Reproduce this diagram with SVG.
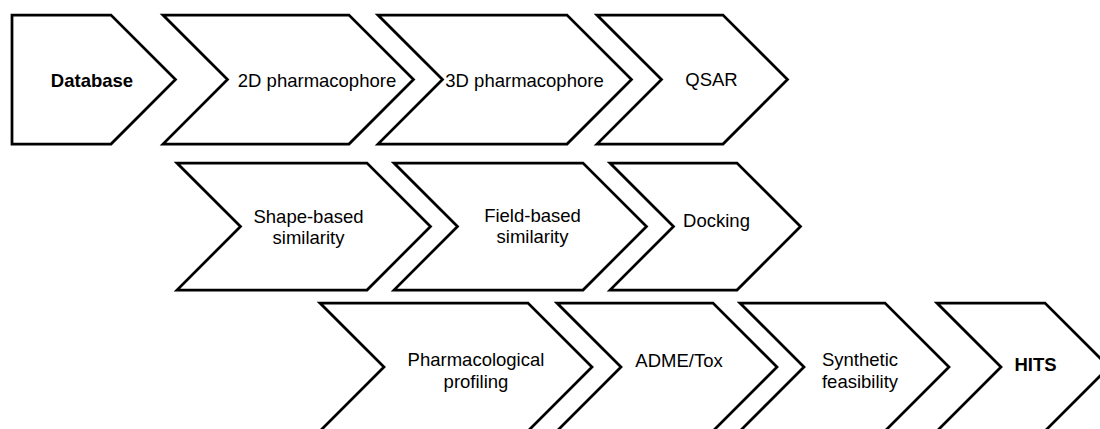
<svg xmlns="http://www.w3.org/2000/svg" width="1100" height="429" viewBox="0 0 1100 429">
<style>
.s{fill:#fff;stroke:#000;stroke-width:2.75;stroke-linejoin:miter}
.t{font-family:"Liberation Sans",Arial,sans-serif;font-size:18.5px;fill:#000;text-anchor:middle}
.b{font-weight:bold}
</style>
<rect width="1100" height="429" fill="#fff"/>
<g id="connectors"></g>
<g id="database"><polygon class="s" points="12,15 111,15 175.5,79.5 111,144 12,144"/><text class="t b" x="92" y="87">Database</text></g>
<g id="pharm2d"><polygon class="s" points="163,15 349,15 413.5,79.5 349,144 163,144 227.5,79.5"/><text class="t" x="317" y="87">2D pharmacophore</text></g>
<g id="pharm3d"><polygon class="s" points="378,15 567,15 631.5,79.5 567,144 378,144 442.5,79.5"/><text class="t" x="524.5" y="87">3D pharmacophore</text></g>
<g id="qsar"><polygon class="s" points="597,15 723,15 787.5,79.5 723,144 597,144 661.5,79.5"/><text class="t" x="711.5" y="86">QSAR</text></g>
<g id="shape"><polygon class="s" points="177,163 367,163 430.5,226.5 367,290 177,290 240.5,226.5"/><text class="t" x="308.5" y="222.5">Shape-based</text><text class="t" x="308.5" y="243.5">similarity</text></g>
<g id="field"><polygon class="s" points="394,163 583,163 646.5,226.5 583,290 394,290 457.5,226.5"/><text class="t" x="532.5" y="222">Field-based</text><text class="t" x="532.5" y="243">similarity</text></g>
<g id="docking"><polygon class="s" points="610,163 737,163 800.5,226.5 737,290 610,290 673.5,226.5"/><text class="t" x="716.5" y="227">Docking</text></g>
<g id="pharmprof"><polygon class="s" points="320,303 528,303 592,367 528,431 320,431 384,367"/><text class="t" x="476" y="366">Pharmacological</text><text class="t" x="476" y="387.5">profiling</text></g>
<g id="adme"><polygon class="s" points="557,303 713,303 777,367 713,431 557,431 621,367"/><text class="t" x="679" y="367">ADME/Tox</text></g>
<g id="synthetic"><polygon class="s" points="740,303 885,303 949,367 885,431 740,431 804,367"/><text class="t" x="860" y="366">Synthetic</text><text class="t" x="860" y="387.5">feasibility</text></g>
<g id="hits"><polygon class="s" points="937,303 1045,303 1109,367 1045,431 937,431 1001,367"/><text class="t b" x="1035.5" y="370.5">HITS</text></g>
</svg>
